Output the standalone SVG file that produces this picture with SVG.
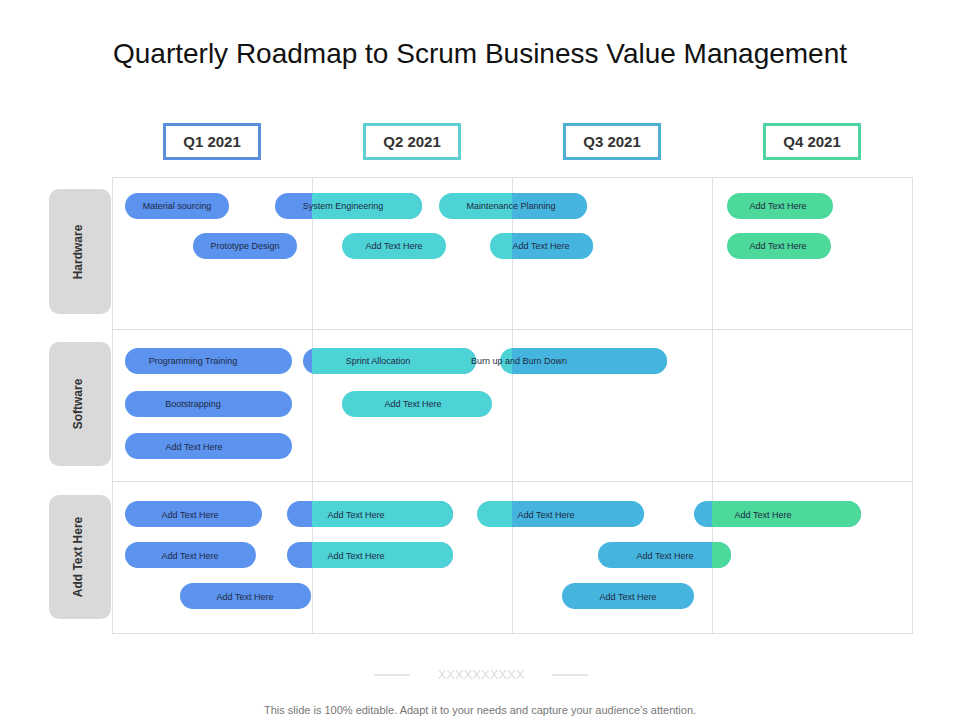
<svg xmlns="http://www.w3.org/2000/svg" width="960" height="720" viewBox="0 0 960 720">
<style>
text{font-family:"Liberation Sans",Arial,sans-serif}
.pt{font-size:9px;fill:#1f2a44;text-anchor:middle}
.q{font-size:15px;font-weight:bold;fill:#333;text-anchor:middle}
.side{font-size:12px;font-weight:bold;fill:#333;text-anchor:middle}
.b{fill:#5B93EE}.t{fill:#4DD3D6}.c{fill:#45B5DF}.g{fill:#4CD99A}
.grid{stroke:#e0e0e0;stroke-width:1;fill:none}
</style>
<defs>
<clipPath id="x2" clipPathUnits="userSpaceOnUse"><rect x="312" y="0" width="700" height="720"/></clipPath>
<clipPath id="x3" clipPathUnits="userSpaceOnUse"><rect x="512" y="0" width="500" height="720"/></clipPath>
<clipPath id="x4" clipPathUnits="userSpaceOnUse"><rect x="712" y="0" width="300" height="720"/></clipPath>
</defs>
<rect width="960" height="720" fill="#fff"/>
<text x="480" y="63" font-size="28" fill="#111" text-anchor="middle">Quarterly Roadmap to Scrum Business Value Management</text>
<g id="headers">
<rect x="164.5" y="124.5" width="95" height="34" fill="#fff" stroke="#5B8FDB" stroke-width="3"/><text class="q" x="212" y="147">Q1 2021</text>
<rect x="364.5" y="124.5" width="95" height="34" fill="#fff" stroke="#5FCFCF" stroke-width="3"/><text class="q" x="412" y="147">Q2 2021</text>
<rect x="564.5" y="124.5" width="95" height="34" fill="#fff" stroke="#4FB0D4" stroke-width="3"/><text class="q" x="612" y="147">Q3 2021</text>
<rect x="764.5" y="124.5" width="95" height="34" fill="#fff" stroke="#4FD3A0" stroke-width="3"/><text class="q" x="812" y="147">Q4 2021</text>
</g>
<g id="grid" class="grid">
<rect x="112.5" y="177.5" width="800" height="456"/>
<path d="M312.5 177.5V633.5M512.5 177.5V633.5M712.5 177.5V633.5M112.5 329.5H912.5M112.5 481.5H912.5"/>
</g>
<g id="rows">
<rect x="49" y="189" width="62" height="125" rx="10" fill="#d9d9d9"/><text class="side" transform="translate(82 252) rotate(-90)">Hardware</text>
<rect x="49" y="342" width="62" height="124" rx="10" fill="#d9d9d9"/><text class="side" transform="translate(82 404) rotate(-90)">Software</text>
<rect x="49" y="495" width="62" height="124" rx="10" fill="#d9d9d9"/><text class="side" transform="translate(82 557) rotate(-90)">Add Text Here</text>
</g>
<g id="bars">
<rect class="b" x="125" y="193" width="104" height="26" rx="13"/><text class="pt" x="177" y="209">Material sourcing</text>
<rect class="b" x="275" y="193" width="147" height="26" rx="13"/><rect class="t" x="275" y="193" width="147" height="26" rx="13" clip-path="url(#x2)"/><text class="pt" x="343" y="209">System Engineering</text>
<rect class="t" x="439" y="193" width="148" height="26" rx="13"/><rect class="c" x="439" y="193" width="148" height="26" rx="13" clip-path="url(#x3)"/><text class="pt" x="511" y="209">Maintenance Planning</text>
<rect class="g" x="727" y="193" width="106" height="26" rx="13"/><text class="pt" x="778" y="209">Add Text Here</text>
<rect class="b" x="193" y="233" width="104" height="26" rx="13"/><text class="pt" x="245" y="249">Prototype Design</text>
<rect class="t" x="342" y="233" width="104" height="26" rx="13"/><text class="pt" x="394" y="249">Add Text Here</text>
<rect class="t" x="490" y="233" width="103" height="26" rx="13"/><rect class="c" x="490" y="233" width="103" height="26" rx="13" clip-path="url(#x3)"/><text class="pt" x="541" y="249">Add Text Here</text>
<rect class="g" x="727" y="233" width="104" height="26" rx="13"/><text class="pt" x="778" y="249">Add Text Here</text>

<rect class="b" x="125" y="348" width="167" height="26" rx="13"/><text class="pt" x="193" y="364">Programming Training</text>
<rect class="b" x="303" y="348" width="173" height="26" rx="13"/><rect class="t" x="303" y="348" width="173" height="26" rx="13" clip-path="url(#x2)"/><text class="pt" x="378" y="364">Sprint Allocation</text>
<rect class="t" x="500" y="348" width="167" height="26" rx="13"/><rect class="c" x="500" y="348" width="167" height="26" rx="13" clip-path="url(#x3)"/><text class="pt" x="519" y="364" text-anchor="start">Burn up and Burn Down</text>
<rect class="b" x="125" y="391" width="167" height="26" rx="13"/><text class="pt" x="193" y="407">Bootstrapping</text>
<rect class="t" x="342" y="391" width="150" height="26" rx="13"/><text class="pt" x="413" y="407">Add Text Here</text>
<rect class="b" x="125" y="433" width="167" height="26" rx="13"/><text class="pt" x="194" y="450">Add Text Here</text>

<rect class="b" x="125" y="501" width="137" height="26" rx="13"/><text class="pt" x="190" y="518">Add Text Here</text>
<rect class="b" x="287" y="501" width="166" height="26" rx="13"/><rect class="t" x="287" y="501" width="166" height="26" rx="13" clip-path="url(#x2)"/><text class="pt" x="356" y="518">Add Text Here</text>
<rect class="t" x="477" y="501" width="167" height="26" rx="13"/><rect class="c" x="477" y="501" width="167" height="26" rx="13" clip-path="url(#x3)"/><text class="pt" x="546" y="518">Add Text Here</text>
<rect class="c" x="694" y="501" width="167" height="26" rx="13"/><rect class="g" x="694" y="501" width="167" height="26" rx="13" clip-path="url(#x4)"/><text class="pt" x="763" y="518">Add Text Here</text>
<rect class="b" x="125" y="542" width="131" height="26" rx="13"/><text class="pt" x="190" y="559">Add Text Here</text>
<rect class="b" x="287" y="542" width="166" height="26" rx="13"/><rect class="t" x="287" y="542" width="166" height="26" rx="13" clip-path="url(#x2)"/><text class="pt" x="356" y="559">Add Text Here</text>
<rect class="c" x="598" y="542" width="133" height="26" rx="13"/><rect class="g" x="598" y="542" width="133" height="26" rx="13" clip-path="url(#x4)"/><text class="pt" x="665" y="559">Add Text Here</text>
<rect class="b" x="180" y="583" width="131" height="26" rx="13"/><text class="pt" x="245" y="600">Add Text Here</text>
<rect class="c" x="562" y="583" width="132" height="26" rx="13"/><text class="pt" x="628" y="600">Add Text Here</text>
</g>
<g id="footer">
<path d="M374 675H410M552 675H588" stroke="#ccc" stroke-width="1"/>
<text x="481" y="679" font-size="13" fill="#ddd" text-anchor="middle">XXXXXXXXXX</text>
<text x="480" y="714" font-size="11" fill="#777" text-anchor="middle">This slide is 100% editable. Adapt it to your needs and capture your audience’s attention.</text>
</g>
</svg>
